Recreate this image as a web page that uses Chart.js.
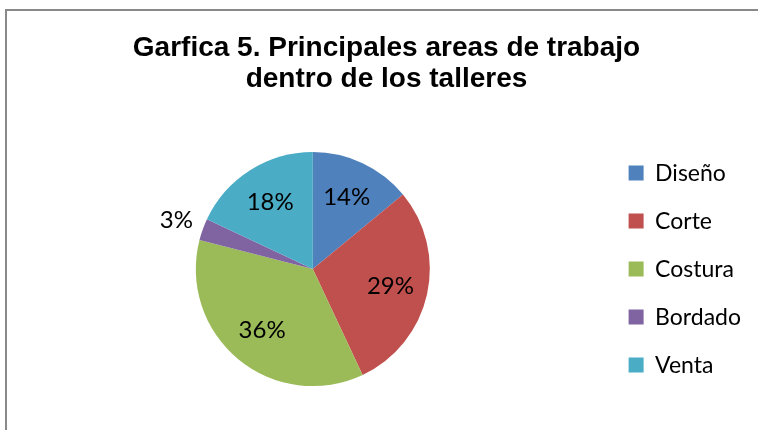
<!DOCTYPE html>
<html lang="es">
<head>
    <meta charset="UTF-8">
    <title>Garfica 5</title>
    <style>
        body { margin: 0; background: #fff; }
        #marco {
            position: absolute; left: 5px; top: 9px; width: 800px; height: 500px;
            border-left: 2px solid #898989; border-top: 2px solid #898989;
        }
        #wrap { position: absolute; left: 0; top: 0; width: 758px; height: 430px; }
    </style>
</head>
<body>
    <div id="marco"></div>
    <div id="wrap">
        <canvas id="mychart" width="758" height="430"></canvas>
    </div>
    <script src="https://cdn.jsdelivr.net/npm/chart.js"></script>
    <script>
        // datos de la grafica
        const categorias = ['Diseño', 'Corte', 'Costura', 'Bordado', 'Venta'];
        const porcentajes = [14, 29, 36, 3, 18];
        const colores = ['#4F81BD', '#C0504D', '#9BBB59', '#8064A2', '#4BACC6'];

        // etiquetas de porcentaje, dentro de cada rebanada (fuera si es muy chica)
        const etiquetas = {
            id: 'etiquetas',
            afterDatasetsDraw(chart) {
                const ctx = chart.ctx;
                const meta = chart.getDatasetMeta(0);
                const total = porcentajes.reduce((a, b) => a + b, 0);
                ctx.save();
                ctx.font = '24px Lato';
                ctx.fillStyle = '#000';
                ctx.textAlign = 'center';
                ctx.textBaseline = 'middle';
                meta.data.forEach((arc, i) => {
                    const frac = porcentajes[i] / total;
                    const mid = (arc.startAngle + arc.endAngle) / 2;
                    const r = arc.outerRadius * (frac < 0.05 ? 1.24 : 0.68);
                    const x = arc.x + Math.cos(mid) * r;
                    const y = arc.y + Math.sin(mid) * r;
                    ctx.fillText(Math.round(frac * 100) + '%', x, y);
                });
                ctx.restore();
            }
        };

        new Chart(document.getElementById('mychart'), {
            type: 'pie',
            data: {
                labels: categorias,
                datasets: [{
                    data: porcentajes,
                    backgroundColor: colores,
                    borderWidth: 0,
                    radius: 117
                }]
            },
            options: {
                responsive: false,
                animation: false,
                layout: { padding: { left: 22, right: 7, top: 0, bottom: 0 } },
                plugins: {
                    tooltip: { enabled: false },
                    title: {
                        display: true,
                        text: ['Garfica 5. Principales areas de trabajo', 'dentro de los talleres'],
                        color: '#000',
                        font: { family: 'Liberation Sans', size: 28, weight: 'bold', lineHeight: 1.11 },
                        padding: { top: 33, bottom: 13 }
                    },
                    legend: {
                        position: 'right',
                        fullSize: false,
                        maxWidth: 155,
                        labels: {
                            color: '#000',
                            font: { family: 'Lato', size: 23 },
                            boxWidth: 15,
                            boxHeight: 15,
                            padding: 25
                        }
                    }
                }
            },
            plugins: [etiquetas]
        });
    </script>
</body>
</html>
